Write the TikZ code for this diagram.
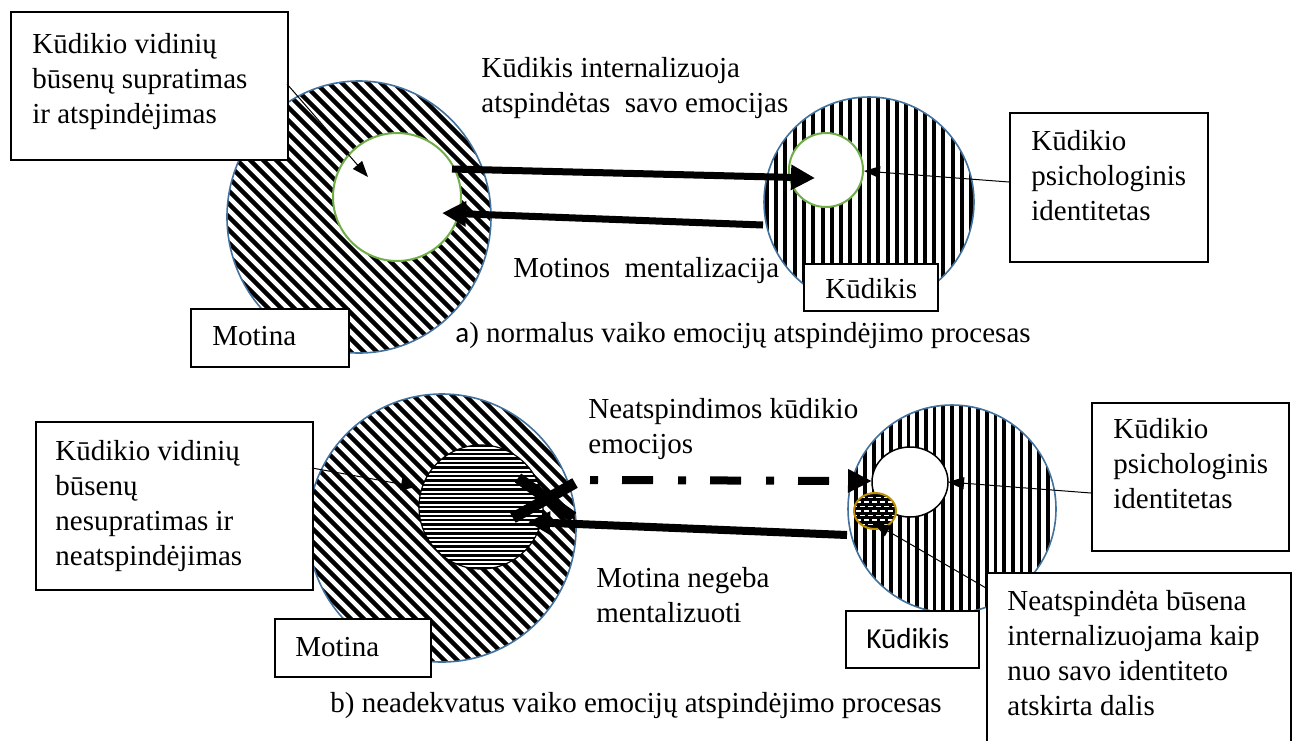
\documentclass[tikz,border=0pt]{standalone}
\usepackage{fontspec}
\setmainfont{Liberation Serif}
\newfontfamily\calib{Carlito}
\usetikzlibrary{arrows.meta}
\definecolor{cblue}{HTML}{41719C}
\definecolor{cgreen}{HTML}{70AD47}
\definecolor{cgold}{HTML}{BF9000}
\begin{document}
\begin{tikzpicture}[x=0.5pt,y=-0.5pt,
  box/.style={draw=black,line width=0.8pt,fill=white,inner sep=0pt,anchor=north west},
  txt/.style={inner sep=0pt,font=\fontsize{14.5pt}{17.5pt}\selectfont,align=left},
  thinarrow/.style={line width=0.5pt,-{Triangle[length=8pt,width=6pt]}},
  thickarrow/.style={line width=3.5pt,-{Triangle[length=12pt,width=12pt]}},
  outerline/.style={draw=cblue,line width=0.8pt},
  innergreen/.style={draw=cgreen,line width=1pt,fill=white},
  diagstripe/.style={line width=2.25pt},
  vstripe/.style={line width=2pt},
]
\useasboundingbox (0,0) rectangle (1294,740);
\fill[white] (0,0) rectangle (1294,740);

% ---------------- TOP: mother circle
\begin{scope}
\clip (359,217) ellipse [x radius=66pt, y radius=68pt];
\foreach \k in {-32,...,32} \draw[diagstripe] ({359+\k*13-160},57) -- ++(320,320);
\end{scope}
\draw[outerline] (359,217) ellipse [x radius=66pt, y radius=68pt];
\draw[innergreen] (397,197) circle [radius=32pt];

% ---------------- TOP: child circle
\begin{scope}
\clip (869,202) circle [radius=52.5pt];
\foreach \k in {-12,...,12} \draw[vstripe] ({869+\k*9.3},90) -- ++(0,230);
\end{scope}
\draw[outerline] (869,202) circle [radius=52.5pt];
\draw[innergreen] (826,170) circle [radius=18.5pt];

% ---------------- BOTTOM: mother circle
\begin{scope}
\clip (442,528) circle [radius=67pt];
\foreach \k in {-32,...,32} \draw[diagstripe] ({442+\k*13-160},368) -- ++(320,320);
\end{scope}
\draw[outerline] (442,528) circle [radius=67pt];
\fill[white] (481,507) circle [radius=31pt];
\begin{scope}
\clip (481,507) circle [radius=31pt];
\foreach \k in {-15,...,15} \draw[line width=1.2pt] (410,{507+\k*4.4}) -- (560,{507+\k*4.4});
\end{scope}
\draw[line width=0.6pt] (481,507) circle [radius=31pt];

% ---------------- BOTTOM: child circle
\begin{scope}
\clip (952,509) circle [radius=52pt];
\foreach \k in {-13,...,13} \draw[line width=1.85pt] ({952+\k*8.7},400) -- ++(0,220);
\end{scope}
\draw[outerline] (952,509) circle [radius=52pt];
\draw[line width=0.75pt,fill=white] (910,482) ellipse [x radius=19pt, y radius=17.5pt];
\begin{scope}
\clip (875,511) ellipse [x radius=10.5pt, y radius=9pt];
\fill[black] (850,490) rectangle (900,532);
\foreach \r in {0,...,9} \foreach \c in {0,...,6}
  \draw[white,line width=0.7pt] ({848+\c*8+mod(\r,2)*4},{493+\r*4.5}) -- ++(5,0);
\end{scope}
\draw[cgold,line width=1pt] (875,511) ellipse [x radius=10.5pt, y radius=9pt];

% ---------------- boxes and texts (top)
\node[box,minimum width=138.5pt,minimum height=74pt] (tlbox) at (10,11) {};
\node[txt,anchor=north west] (tltxt) at (32,33) {Kūdikio vidinių\\būsenų supratimas\\ir atspindėjimas};
\node[box,minimum width=79pt,minimum height=29pt] (motA) at (190,308) {};
\node[txt,anchor=base west] (motAtxt) at (212,345) {Motina};
\node[box,minimum width=67pt,minimum height=23.5pt] (kudA) at (803,263) {};
\node[txt,anchor=base west] (kudAtxt) at (825,298) {Kūdikis};
\node[box,minimum width=99pt,minimum height=74.5pt] (trbox) at (1009,112) {};
\node[txt,anchor=north west] (trtxt) at (1031,130) {Kūdikio\\psichologinis\\identitetas};
\node[txt,anchor=north west] (internal) at (481,57) {Kūdikis internalizuoja\\atspindėtas\ \ savo emocijas};
\node[txt,anchor=base west] (mentaliz) at (513,277) {Motinos\ \ mentalizacija};
\node[txt,anchor=base west] (capA) at (455,342) {{\calib a}) normalus vaiko emocijų atspindėjimo procesas};

% ---------------- boxes and texts (bottom)
\node[box,minimum width=138.5pt,minimum height=84pt] (blbox) at (35,421) {};
\node[txt,anchor=north west] (bltxt) at (55,440) {Kūdikio vidinių\\būsenų\\nesupratimas ir\\neatspindėjimas};
\node[box,minimum width=78pt,minimum height=29pt] (motB) at (274,618) {};
\node[txt,anchor=base west] (motBtxt) at (295,656) {Motina};
\node[box,minimum width=66.5pt,minimum height=28.5pt] (kudB) at (845,610) {};
\node[txt,anchor=base west,font=\calib\fontsize{14.5pt}{17.5pt}\selectfont] (kudBtxt) at (866,648) {Kūdikis};
\node[box,minimum width=98.5pt,minimum height=74pt] (brbox) at (1091,402) {};
\node[txt,anchor=north west] (brtxt) at (1113,418) {Kūdikio\\psichologinis\\identitetas};
\node[box,minimum width=152pt,minimum height=87pt] (nbox) at (986,572) {};
\node[txt,anchor=north west] (ntxt) at (1007,590) {Neatspindėta būsena\\internalizuojama kaip\\nuo savo identiteto\\atskirta dalis};
\node[txt,anchor=north west] (neatsp) at (588,398) {Neatspindimos kūdikio\\emocijos};
\node[txt,anchor=north west] (negeba) at (596,567) {Motina negeba\\mentalizuoti};
\node[txt,anchor=base west] (capB) at (330,712) {b) neadekvatus vaiko emocijų atspindėjimo procesas};

% ---------------- connector end points
\coordinate (tlA) at (287,84);   \coordinate (tlB) at (368,177);
\coordinate (trA) at (1009,182); \coordinate (trB) at (864,171);
\coordinate (a1s) at (452,169);  \coordinate (a1e) at (815,178);
\coordinate (a2s) at (763,225);  \coordinate (a2e) at (442,213);
\coordinate (blA) at (312,468);  \coordinate (blB) at (417,487);
\coordinate (brA) at (1091,493); \coordinate (brB) at (948,482);
\coordinate (nA) at (986,588);   \coordinate (nB) at (874,523);
\coordinate (dS) at (590,480);   \coordinate (dE) at (872,481);
\coordinate (sS) at (847,535);   \coordinate (sE) at (528,522);
\coordinate (x1) at (518,478);   \coordinate (x2) at (573,517);
\coordinate (x3) at (513,518);   \coordinate (x4) at (575,483);

% ---------------- connectors
\draw[thinarrow] (tlA) -- (tlB);
\draw[thinarrow] (trA) -- (trB);
\draw[thickarrow] (a1s) -- (a1e);
\draw[thickarrow] (a2s) -- (a2e);
\draw[thinarrow] (blA) -- (blB);
\draw[thinarrow] (brA) -- (brB);
\draw[thinarrow] (nA) -- (nB);
\draw[line width=4pt,dash pattern=on 4pt off 12pt on 15.5pt off 12.5pt,-{Triangle[length=12pt,width=11pt]}] (dS) -- (dE);
\draw[line width=5.5pt] (x1) -- (x2);
\draw[line width=5.5pt] (x3) -- (x4);
\draw[line width=4pt,-{Triangle[length=11pt,width=11pt]}] (sS) -- (sE);
\end{tikzpicture}
\end{document}
